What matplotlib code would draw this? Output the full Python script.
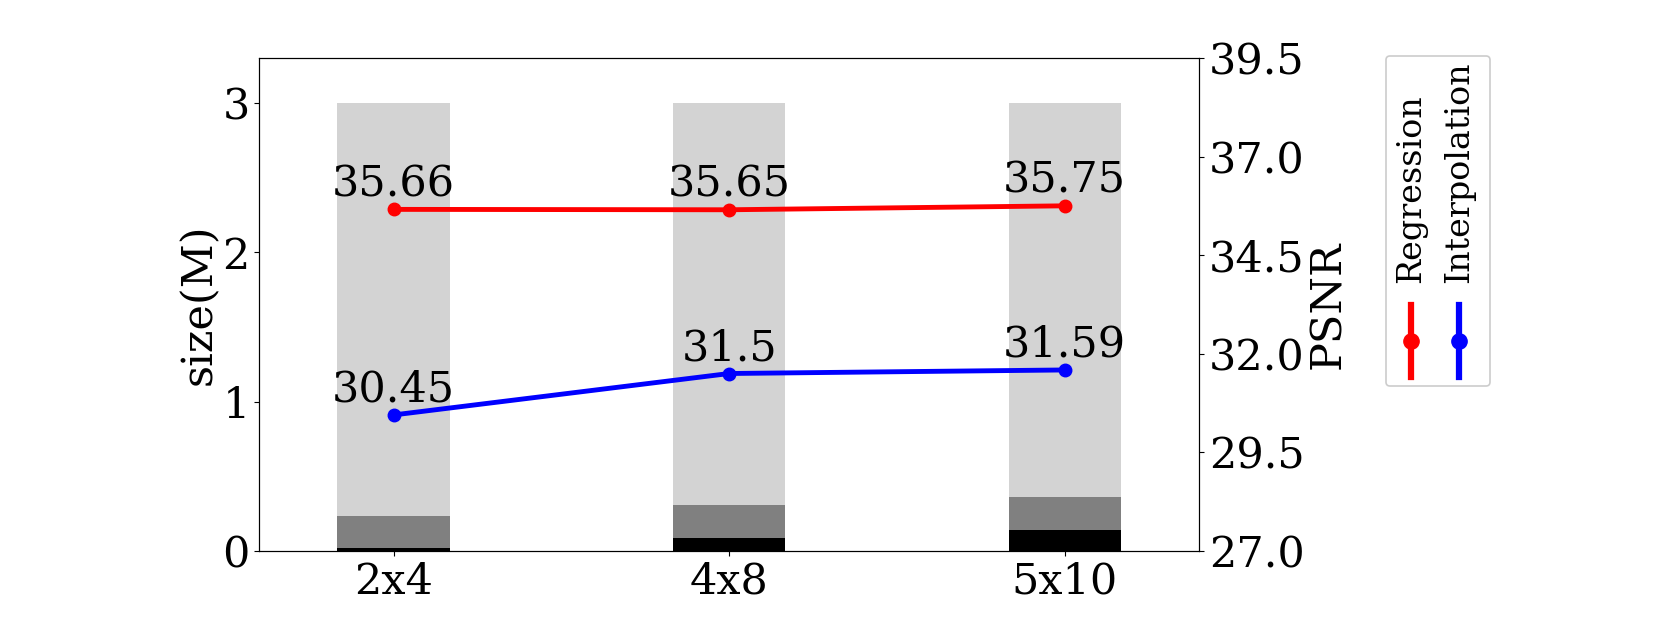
import matplotlib.pyplot as plt
import numpy as np
from matplotlib.patches import FancyBboxPatch

plt.rcParams['font.family'] = 'DejaVu Serif'

# datos
categories = ['2x4', '4x8', '5x10']
total_size = [3.0, 3.0, 3.0]
mid_size = [0.235, 0.306, 0.362]
low_size = [0.02, 0.085, 0.142]
psnr_regression = [35.66, 35.65, 35.75]
psnr_interpolation = [30.45, 31.5, 31.59]
psnr_ticks = [27.0, 29.5, 32.0, 34.5, 37.0, 39.5]

x = np.arange(len(categories))
bar_w = 0.335
fs = 31

fig = plt.figure(figsize=(16.61, 6.43), dpi=100)
ax = fig.add_axes([0.1562, 0.143, 0.5656, 0.767])

ax.bar(x, total_size, bar_w, color='lightgray')
ax.bar(x, mid_size, bar_w, color='gray')
ax.bar(x, low_size, bar_w, color='black')
ax.set_xlim(-0.4, 2.4)
ax.set_ylim(0, 3.3)
ax.set_yticks([0, 1, 2, 3])
ax.set_xticks(x)
ax.set_xticklabels(categories)
ax.tick_params(labelsize=fs)
ax.set_ylabel('size(M)', fontsize=fs, labelpad=2)

ax2 = ax.twinx()
ax2.plot(x, psnr_regression, color='red', lw=3.5, marker='o', ms=9)
ax2.plot(x, psnr_interpolation, color='blue', lw=3.5, marker='o', ms=9)
for xi, v in zip(x, psnr_regression):
    ax2.annotate(str(v), (xi, v), xytext=(0, 3), textcoords='offset points',
                 ha='center', va='bottom', fontsize=fs)
for xi, v in zip(x, psnr_interpolation):
    ax2.annotate(str(v), (xi, v), xytext=(0, 3), textcoords='offset points',
                 ha='center', va='bottom', fontsize=fs)
ax2.set_ylim(27, 39.5)
ax2.set_yticks(psnr_ticks)
ax2.set_yticklabels([f'{t:.1f}' for t in psnr_ticks])
ax2.tick_params(labelsize=fs)
ax2.set_ylabel('PSNR', fontsize=fs, labelpad=2)

# leyenda vertical
lax = fig.add_axes([1385 / 1661, (643 - 387) / 643, 106 / 1661, 332 / 643])
lax.set_xlim(0, 106)
lax.set_ylim(332, 0)
lax.axis('off')
lax.add_patch(FancyBboxPatch((1, 1), 104, 330, boxstyle='round,pad=0,rounding_size=4',
                             fc='white', ec='#cccccc', lw=1.2))
for lx, c, name in [(26, 'red', 'Regression'), (74, 'blue', 'Interpolation')]:
    lax.plot([lx, lx], [250, 322], color=c, lw=4.5)
    lax.plot([lx], [286], color=c, marker='o', ms=11)
    lax.text(lx, 228, name, rotation=90, ha='center', va='bottom', fontsize=24)

fig.savefig('out.png')
